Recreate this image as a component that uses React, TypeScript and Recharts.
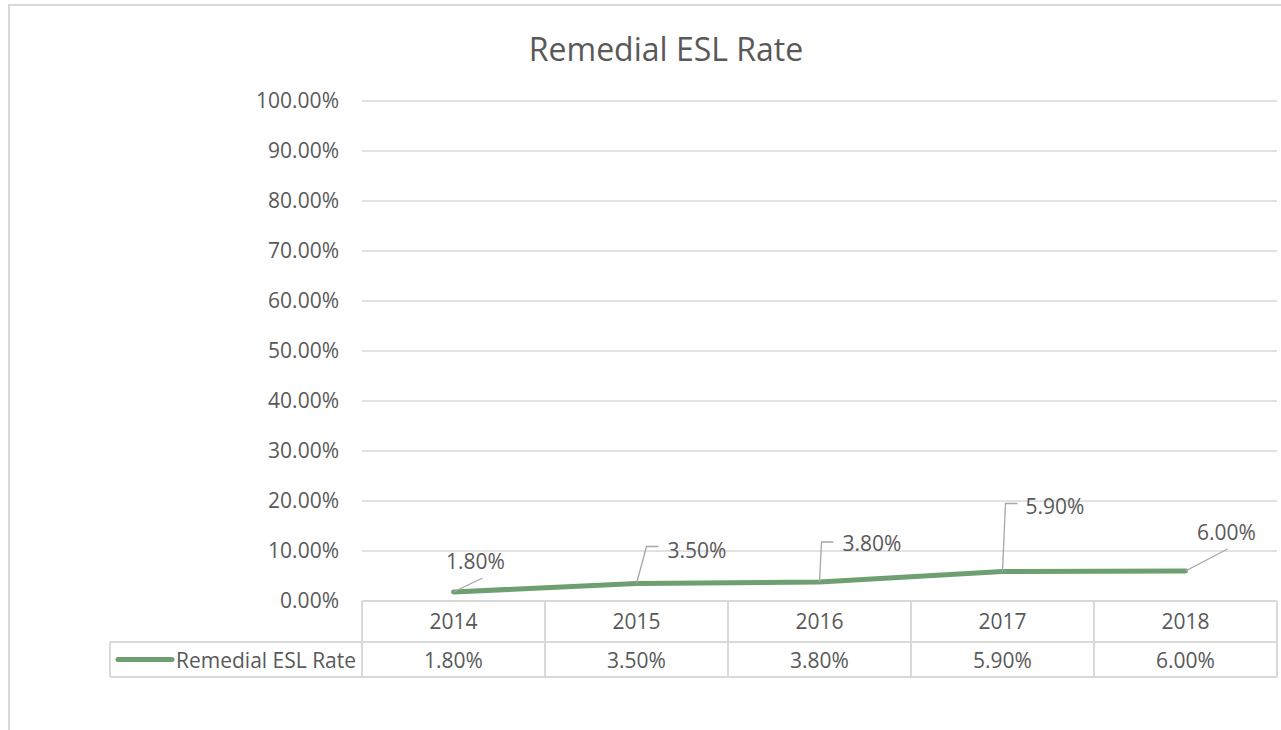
import { CartesianGrid, LabelList, Line, LineChart, XAxis, YAxis } from "recharts";

const years = ["2014", "2015", "2016", "2017", "2018"];
const rates = [0.018, 0.035, 0.038, 0.059, 0.06];
const yTicks = [0, 0.1, 0.2, 0.3, 0.4, 0.5, 0.6, 0.7, 0.8, 0.9, 1];
const seriesName = "Remedial ESL Rate";

const data = years.map((year, i) => ({ year, rate: rates[i] }));

const FONT = "'Open Sans', 'Liberation Sans', sans-serif";
const FS = 21;
const TEXT = "#595959";
const GRID = "#D9D9D9";
const LINE = "#6E9F71";
const LEADER = "#A6A6A6";
const BAND = 183;
const LEGEND_LEFT = 110;
const RIGHT_EDGE = 1277;

const pct = (v: number) => `${(v * 100).toFixed(2)}%`;

// leader line path + text anchor for each data label, relative to the point
const labelPlacement = [
  { path: [[0, 0], [29, -14]], tx: 22, ty: -31, anchor: "middle" },
  { path: [[0, 0], [10, -37], [22, -37]], tx: 31, ty: -34, anchor: "start" },
  { path: [[0, 0], [2, -40], [14, -40]], tx: 23, ty: -39, anchor: "start" },
  { path: [[0, 0], [3, -68], [15, -68]], tx: 23, ty: -66, anchor: "start" },
  { path: [[0, 0], [42, -22]], tx: 41, ty: -39, anchor: "middle" },
];

function DataLabel(props: any) {
  const { x, y, value, index } = props;
  const p = labelPlacement[index];
  if (!p) return null;
  const d = p.path.map(([dx, dy], i) => `${i ? "L" : "M"}${x + dx},${y + dy}`).join(" ");
  return (
    <g>
      <path d={d} fill="none" stroke={LEADER} strokeWidth={1.3} />
      <text
        x={x + p.tx}
        y={y + p.ty}
        textAnchor={p.anchor}
        dominantBaseline="central"
        fontFamily={FONT}
        fontSize={FS}
        fill={TEXT}
      >
        {pct(value)}
      </text>
    </g>
  );
}

function TableTick(props: any) {
  const { x, y, payload, index } = props;
  const top = y;
  const mid = y + 41;
  const bottom = y + 76;
  const left = x - BAND / 2;
  const right = x + BAND / 2;
  return (
    <g>
      {index === 0 && (
        <g>
          <line x1={LEGEND_LEFT} y1={mid} x2={RIGHT_EDGE} y2={mid} stroke={GRID} strokeWidth={2} />
          <line x1={LEGEND_LEFT} y1={bottom} x2={RIGHT_EDGE} y2={bottom} stroke={GRID} strokeWidth={2} />
          <line x1={LEGEND_LEFT} y1={mid} x2={LEGEND_LEFT} y2={bottom} stroke={GRID} strokeWidth={2} />
          <line x1={left} y1={top} x2={left} y2={bottom} stroke={GRID} strokeWidth={2} />
          <line x1={LEGEND_LEFT + 8} y1={(mid + bottom) / 2} x2={LEGEND_LEFT + 62} y2={(mid + bottom) / 2} stroke={LINE} strokeWidth={5} strokeLinecap="round" />
          <text x={LEGEND_LEFT + 66} y={(mid + bottom) / 2} dominantBaseline="central" fontFamily={FONT} fontSize={FS} fill={TEXT}>
            {seriesName}
          </text>
        </g>
      )}
      <line x1={right} y1={top} x2={right} y2={bottom} stroke={GRID} strokeWidth={2} />
      <text x={x} y={(top + mid) / 2 - 1} textAnchor="middle" dominantBaseline="central" fontFamily={FONT} fontSize={FS} fill={TEXT}>
        {payload.value}
      </text>
      <text x={x} y={(mid + bottom) / 2} textAnchor="middle" dominantBaseline="central" fontFamily={FONT} fontSize={FS} fill={TEXT}>
        {pct(rates[index])}
      </text>
    </g>
  );
}

export default function App() {
  return (
    <div style={{ position: "fixed", left: 0, top: 0, width: 1281, height: 730, background: "#fff", overflow: "hidden" }}>
      <div
        style={{
          position: "absolute",
          left: 8,
          top: 4,
          width: 1300,
          height: 760,
          border: `2px solid ${GRID}`,
        }}
      />
      <div
        style={{
          position: "absolute",
          left: 0,
          top: 27,
          width: 1332,
          textAlign: "center",
          fontFamily: FONT,
          fontSize: 32,
          color: TEXT,
        }}
      >
        {seriesName}
      </div>
      <div style={{ position: "absolute", left: 0, top: 0 }}>
        <LineChart width={1281} height={730} data={data} margin={{ top: 101, right: 4, bottom: 53, left: 0 }}>
          <CartesianGrid vertical={false} stroke={GRID} strokeWidth={1.5} />
          <XAxis
            dataKey="year"
            padding={{ left: BAND / 2, right: BAND / 2 }}
            axisLine={{ stroke: GRID, strokeWidth: 2 }}
            tickLine={false}
            tickSize={0}
            tickMargin={0}
            height={76}
            interval={0}
            tick={<TableTick />}
          />
          <YAxis
            width={362}
            domain={[0, 1]}
            ticks={yTicks}
            tickFormatter={pct}
            axisLine={false}
            tickLine={false}
            tickSize={0}
            tickMargin={23}
            tick={{ fill: TEXT, fontFamily: FONT, fontSize: FS }}
          />
          <Line
            type="linear"
            dataKey="rate"
            stroke={LINE}
            strokeWidth={5}
            strokeLinecap="round"
            dot={false}
            isAnimationActive={false}
          >
            <LabelList dataKey="rate" content={<DataLabel />} />
          </Line>
        </LineChart>
      </div>
    </div>
  );
}
